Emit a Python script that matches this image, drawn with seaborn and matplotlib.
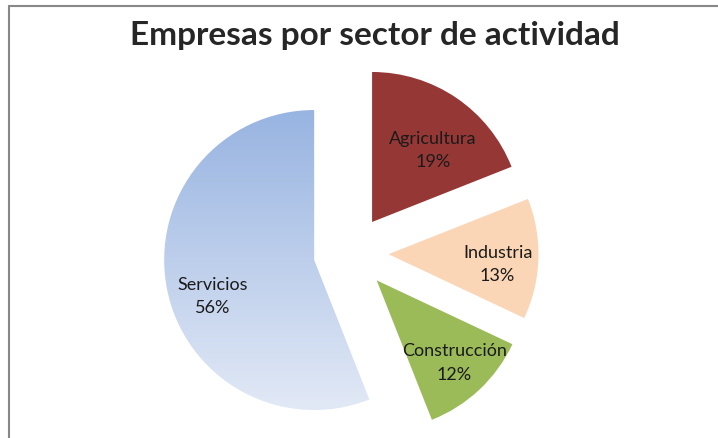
import numpy as np
import seaborn as sns
import matplotlib.pyplot as plt
from matplotlib.lines import Line2D
from matplotlib.colors import LinearSegmentedColormap

sns.set_style("white")
plt.rcParams['font.family'] = ['Lato', 'DejaVu Sans']

sectores = ["Agricultura", "Industria", "Construcción", "Servicios"]
porcentajes = [19, 13, 12, 56]
colores = ["#953735", "#FAD6B6", "#9BBB59", "#A9C0E6"]

fig = plt.figure(figsize=(7.18, 4.39), dpi=100)
ax = fig.add_axes([0, 0, 1, 1])

wedges, textos = ax.pie(
    porcentajes, colors=colores, startangle=90, counterclock=False,
    explode=[0.25] * 4, radius=1,
    wedgeprops=dict(linewidth=0),
)

# etiquetas: nombre y porcentaje (posición relativa al vértice de cada porción)
pos_etiqueta = [(50, 0.63), (-4.7, 0.73), (-46.5, 0.75), (199.4, 0.72)]
for w, nombre, pct, (ang, dist) in zip(wedges, sectores, porcentajes, pos_etiqueta):
    cx, cy = w.center
    a = np.deg2rad(ang)
    ax.text(cx + dist * np.cos(a), cy + dist * np.sin(a), f"{nombre}\n{pct}%",
            ha="center", va="center", fontsize=13, color="#1a1a1a",
            linespacing=1.55)

# degradado para Servicios
serv = wedges[3]
bb = serv.get_path().get_extents(serv.get_transform()).transformed(ax.transData.inverted())
cmap = LinearSegmentedColormap.from_list("serv", ["#E2E9F6", "#98B4E1"])
grad = np.linspace(0, 1, 256).reshape(-1, 1)
img = ax.imshow(grad, cmap=cmap, aspect="auto", origin="lower",
                extent=[bb.x0, bb.x1, bb.y0, bb.y1], zorder=serv.get_zorder())
img.set_clip_path(serv)
serv.set_facecolor("none")

# escala: 150 px por unidad, centro en (351, 254) px
ax.set_xlim(-351 / 150, (718 - 351) / 150)
ax.set_ylim(-(439 - 254) / 150, 254 / 150)
ax.set_aspect("auto")
ax.axis("off")

fig.text(0.522, 1 - 36 / 439, "Empresas por sector de actividad",
         ha="center", va="center", fontsize=24, fontweight="bold")

# marco del gráfico
fig.add_artist(Line2D([8.5 / 718, 8.5 / 718], [0, 1 - 6.5 / 439],
                      color="#888888", linewidth=1.5))
fig.add_artist(Line2D([8.5 / 718, 1], [1 - 6.5 / 439, 1 - 6.5 / 439],
                      color="#888888", linewidth=1.5))

fig.savefig("out.png", dpi=100)
